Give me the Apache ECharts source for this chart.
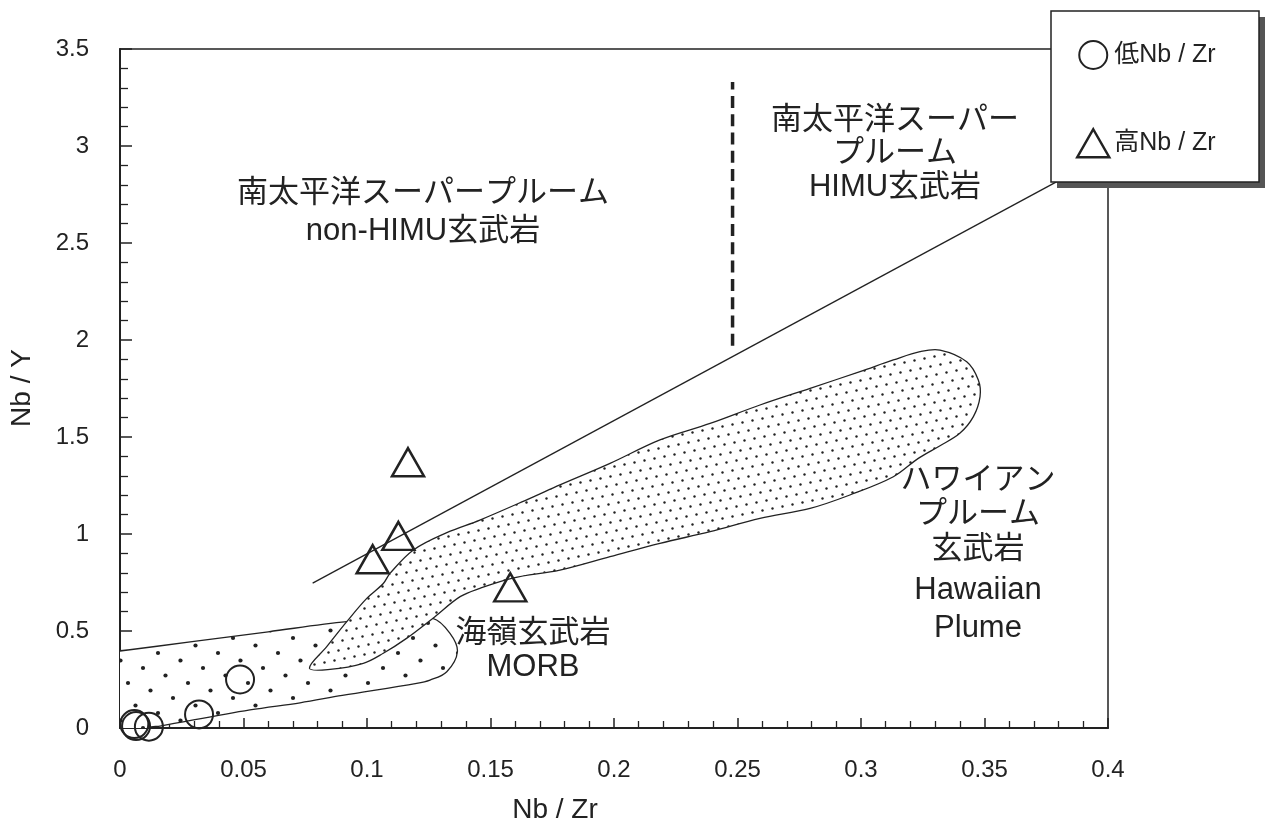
<!DOCTYPE html>
<html>
<head>
<meta charset="utf-8">
<script src="https://cdn.jsdelivr.net/npm/echarts@6/dist/echarts.min.js"></script>
<style>
html,body{margin:0;padding:0;background:#fff;}
#chart{width:1265px;height:831px;}
</style>
</head>
<body>
<div id="chart"></div>
<script>
// ---- data (Nb/Zr, Nb/Y) ----
const lowNbZr = [[0.0058,0.02],[0.0065,0.01],[0.0117,0.007],[0.032,0.07],[0.0486,0.25]];
const highNbZr = [[0.1166,1.37],[0.1127,0.99],[0.1023,0.87],[0.158,0.725]];
const boundaryLine = [[0.078,0.747],[0.39,2.89]];
const himuDivide = [[0.248,1.97],[0.248,3.33]];
const hawaiiField = [
  [0.0767,0.308],[0.0837,0.419],[0.0918,0.548],[0.0999,0.668],[0.1066,0.745],
  [0.1093,0.797],[0.1188,0.918],[0.1323,1.007],[0.1457,1.072],[0.166,1.184],
  [0.1781,1.253],[0.1984,1.364],[0.2186,1.485],[0.2389,1.57],[0.2591,1.665],
  [0.2794,1.751],[0.2996,1.837],[0.3131,1.897],[0.3239,1.94],[0.332,1.948],
  [0.3428,1.888],[0.3475,1.794],[0.3482,1.708],[0.3455,1.605],[0.34,1.519],
  [0.332,1.455],[0.3232,1.39],[0.3131,1.295],[0.2955,1.201],[0.2794,1.132],
  [0.2591,1.081],[0.2389,1.012],[0.2186,0.952],[0.1984,0.883],[0.1781,0.814],
  [0.159,0.773],[0.1457,0.72],[0.1377,0.677],[0.1266,0.565],[0.116,0.462],
  [0.1066,0.385],[0.0985,0.333],[0.085,0.302]
];
const morbField = [
  [-0.01,0.381],[0,0.397],[0.03,0.446],[0.06,0.496],[0.0918,0.548],[0.11,0.558],
  [0.1266,0.565],[0.1336,0.488],[0.1366,0.393],[0.1323,0.29],[0.1255,0.247],
  [0.1201,0.23],[0.09,0.168],[0.0729,0.13],[0.0526,0.093],[0.0162,0.01],
  [0.0115,0],[0.011,-0.03],[-0.01,-0.03]
];
const xTickMax = 0.4, xTickStep = 0.05;
const yTickMax = 3.5, yTickStep = 0.5;

const INK = '#222';
const FONT = "'Liberation Sans', 'Noto Sans CJK JP', sans-serif";

function makePattern(w, h, a, b, r, bg) {
  const c = document.createElement('canvas');
  c.width = w; c.height = h;
  const g = c.getContext('2d');
  if (bg) { g.fillStyle = bg; g.fillRect(0,0,w,h); }
  g.fillStyle = INK;
  const seen = {};
  for (let i = -30; i <= 30; i++) for (let j = -30; j <= 30; j++) {
    let x = i*a[0] + j*b[0], y = i*a[1] + j*b[1];
    x = ((x % w) + w) % w; y = ((y % h) + h) % h;
    const k = Math.round(x*10)+'_'+Math.round(y*10);
    if (seen[k]) continue; seen[k] = 1;
    for (const dx of [-w,0,w]) for (const dy of [-h,0,h]) {
      g.beginPath(); g.arc(x+dx+0.5, y+dy+0.5, r, 0, Math.PI*2); g.fill();
    }
  }
  return {image: c, repeat: 'repeat'};
}
const coarse = makePattern(60, 60, [22.5,7.5], [15,-15], 2.1, '#fff');
const fine = makePattern(46, 46, [10,-2], [6,8], 1.2, '#fff');

function field(name, pts, fill, z) {
  return {
    type: 'custom', name: name, z: z, clip: true, silent: true,
    data: [[0,0]],
    renderItem: function (params, api) {
      return {
        type: 'polygon',
        shape: {points: pts.map(p => api.coord(p)), smooth: 0.35},
        style: {fill: fill, stroke: INK, lineWidth: 1.3}
      };
    }
  };
}

function txt(t, x, y, size) {
  return {type:'text', x: x, y: y, z: 50,
    style:{text:t, x:0, y:0, fill:INK, fontSize:size||31, fontFamily:FONT,
      align:'center', verticalAlign:'middle', textAlign:'center', textVerticalAlign:'middle'}};
}

const chart = echarts.init(document.getElementById('chart'));
chart.setOption({
  backgroundColor: '#fff',
  animation: false,
  grid: {left:120, right:157, top:49, bottom:103, show:true, borderColor:INK, borderWidth:1.5},
  xAxis: {
    type:'value', min:0, max:xTickMax, interval:xTickStep,
    axisLine:{lineStyle:{color:INK, width:2}},
    axisTick:{inside:true, length:10, lineStyle:{color:INK, width:1.5}},
    minorTick:{show:true, splitNumber:5, length:7, lineStyle:{color:INK, width:1.3}},
    splitLine:{show:false},
    axisLabel:{margin:30, fontSize:24, color:INK, fontFamily:FONT}
  },
  yAxis: {
    type:'value', min:0, max:yTickMax, interval:yTickStep,
    axisLine:{lineStyle:{color:INK, width:2}},
    axisTick:{inside:true, length:12, lineStyle:{color:INK, width:1.5}},
    minorTick:{show:true, splitNumber:5, length:8, lineStyle:{color:INK, width:1.3}},
    splitLine:{show:false},
    axisLabel:{margin:31, fontSize:24, color:INK, fontFamily:FONT}
  },
  legend: {
    orient:'vertical', left:1076, top:40, itemWidth:32, itemHeight:28, itemGap:58,
    itemTextGap:12, padding:0, z:200, selectedMode:false,
    textStyle:{fontSize:25, color:INK, fontFamily:FONT},
    data:[
      {name:'低Nb / Zr', icon:'circle', itemStyle:{color:'transparent', borderColor:INK, borderWidth:2, opacity:1}},
      {name:'高Nb / Zr', icon:'triangle', itemStyle:{color:'transparent', borderColor:INK, borderWidth:2.5, opacity:1}}
    ]
  },
  graphic: [
    {type:'rect', z:100, shape:{x:1057, y:17, width:208, height:171}, style:{fill:'#555'}},
    {type:'rect', z:101, shape:{x:1051, y:11, width:208, height:171}, style:{fill:'#fff', stroke:INK, lineWidth:1.5}},
    txt('南太平洋スーパープルーム', 423, 193),
    txt('non-HIMU玄武岩', 423, 231),
    txt('南太平洋スーパー', 895, 120),
    txt('プルーム', 895, 153),
    txt('HIMU玄武岩', 895, 187),
    txt('海嶺玄武岩', 533, 633),
    txt('MORB', 533, 667),
    txt('ハワイアン', 978, 480),
    txt('プルーム', 978, 514),
    txt('玄武岩', 978, 549),
    txt('Hawaiian', 978, 590),
    txt('Plume', 978, 628),
    txt('Nb / Zr', 555, 810, 28),
    Object.assign(txt('Nb / Y', 22, 388, 28), {rotation: Math.PI/2})
  ],
  series: [
    field('MORB', morbField, coarse, 1),
    field('Hawaii', hawaiiField, fine, 2),
    {type:'line', data:boundaryLine, z:3, symbol:'none', silent:true,
      lineStyle:{color:INK, width:1.3}},
    {type:'line', data:himuDivide, z:3, symbol:'none', silent:true,
      lineStyle:{color:INK, width:3.5, type:[12,6.3]}},
    {type:'scatter', name:'低Nb / Zr', data:lowNbZr, z:5, symbol:'circle', symbolSize:28,
      itemStyle:{color:'transparent', borderColor:INK, borderWidth:2, opacity:1}},
    {type:'scatter', name:'高Nb / Zr', data:highNbZr, z:5, symbol:'triangle', symbolSize:[32,28],
      itemStyle:{color:'transparent', borderColor:INK, borderWidth:2.5, opacity:1}}
  ]
});
</script>
</body>
</html>
